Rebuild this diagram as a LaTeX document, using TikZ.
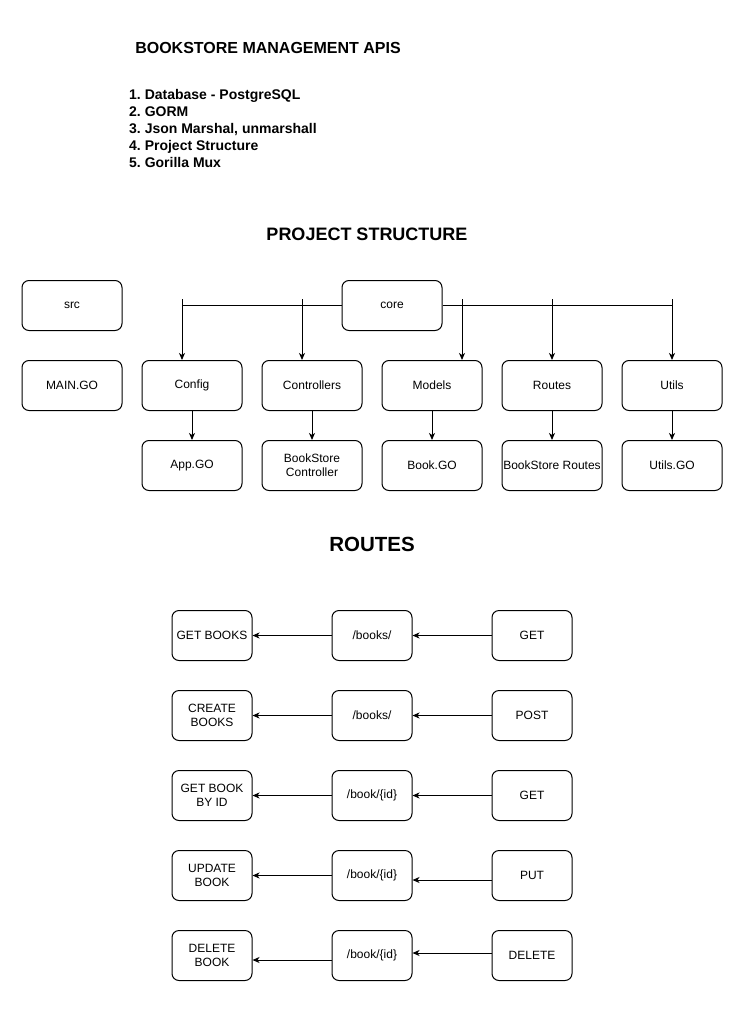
\documentclass[tikz,border=0pt]{standalone}
\usepackage{fontspec}
\setmainfont{Liberation Sans}
\usetikzlibrary{arrows.meta}
\frenchspacing
\begin{document}
\begin{tikzpicture}[x=1pt,y=-1pt,
  box/.style={draw=black,line width=1pt,rounded corners=7pt,minimum width=100pt,minimum height=50pt,inner sep=1pt,align=center,font=\fontsize{12}{14}\selectfont},
  rbox/.style={box,minimum width=80pt},
  arr/.style={draw=black,line width=1pt,-{Stealth[length=7pt,width=6pt,inset=2pt]}},
  ln/.style={draw=black,line width=1pt},
  listitem/.style={anchor=base west,inner sep=0pt,font=\bfseries\fontsize{14}{16.8}\selectfont}
]
\useasboundingbox (0,0) rectangle (741,1016);
\fill[white] (0,0) rectangle (741,1016);

% headings
\node[font=\bfseries\fontsize{16}{19}\selectfont] (title) at (268,48) {BOOKSTORE MANAGEMENT APIS};
\node[listitem] (l1) at (129,100) {1. Database - PostgreSQL};
\node[listitem] (l2) at (129,116.8) {2. GORM};
\node[listitem] (l3) at (129,133.6) {3. Json Marshal, unmarshall};
\node[listitem] (l4) at (129,150.4) {4. Project Structure};
\node[listitem] (l5) at (129,167.2) {5. Gorilla Mux};
\node[font=\bfseries\fontsize{18}{21}\selectfont] (ps) at (367,234) {PROJECT STRUCTURE};
\node[font=\bfseries\fontsize{20.5}{24}\selectfont] (rt) at (372,544) {ROUTES};

% project structure
\node[box] (src) at (72,305.5) {src};
\node[box] (main) at (72,385.5) {MAIN.GO};
\node[box] (core) at (392,305.5) {core};
\node[box] (config) at (192,385.5) {Config};
\node[box] (ctrl) at (312,385.5) {Controllers};
\node[box] (models) at (432,385.5) {Models};
\node[box] (routes) at (552,385.5) {Routes};
\node[box] (utils) at (672,385.5) {Utils};
\node[box] (app) at (192,465.5) {App.GO};
\node[box] (bsc) at (312,465.5) {BookStore\\Controller};
\node[box] (book) at (432,465.5) {Book.GO};
\node[box] (bsr) at (552,465.5) {BookStore Routes};
\node[box] (ugo) at (672,465.5) {Utils.GO};

\coordinate (t1) at (182,299);
\coordinate (t2) at (302,299);
\coordinate (t3) at (462,299);
\coordinate (t4) at (552,299);
\coordinate (t5) at (672,299);
\draw[ln] (core.west) -- (core.west -| t1);
\draw[ln] (core.east) -- (core.east -| t5);
\draw[arr] (t1) -- (t1 |- config.north);
\draw[arr] (t2) -- (t2 |- ctrl.north);
\draw[arr] (t3) -- (t3 |- models.north);
\draw[arr] (t4) -- (t4 |- routes.north);
\draw[arr] (t5) -- (t5 |- utils.north);

\draw[arr] (config) -- (app);
\draw[arr] (ctrl) -- (bsc);
\draw[arr] (models) -- (book);
\draw[arr] (routes) -- (bsr);
\draw[arr] (utils) -- (ugo);

% routes
\node[rbox] (r1a) at (212,635.5) {GET BOOKS};
\node[rbox] (r1b) at (372,635.5) {/books/};
\node[rbox] (r1c) at (532,635.5) {GET};
\node[rbox] (r2a) at (212,715.5) {CREATE\\BOOKS};
\node[rbox] (r2b) at (372,715.5) {/books/};
\node[rbox] (r2c) at (532,715.5) {POST};
\node[rbox] (r3a) at (212,795.5) {GET BOOK\\BY ID};
\node[rbox] (r3b) at (372,795.5) {/book/\{id\}};
\node[rbox] (r3c) at (532,795.5) {GET};
\node[rbox] (r4a) at (212,875.5) {UPDATE\\BOOK};
\node[rbox] (r4b) at (372,875.5) {/book/\{id\}};
\node[rbox] (r4c) at (532,875.5) {PUT};
\node[rbox] (r5a) at (212,955.5) {DELETE\\BOOK};
\node[rbox] (r5b) at (372,955.5) {/book/\{id\}};
\node[rbox] (r5c) at (532,955.5) {DELETE};

\draw[arr] (r1c) -- (r1b);
\draw[arr] (r1b) -- (r1a);
\draw[arr] (r2c) -- (r2b);
\draw[arr] (r2b) -- (r2a);
\draw[arr] (r3c) -- (r3b);
\draw[arr] (r3b) -- (r3a);
\draw[arr] ([yshift=-4.5pt]r4c.west) -- ([yshift=-4.5pt]r4b.east);
\draw[arr] (r4b) -- (r4a);
\draw[arr] ([yshift=2.5pt]r5c.west) -- ([yshift=2.5pt]r5b.east);
\draw[arr] ([yshift=-4.5pt]r5b.west) -- ([yshift=-4.5pt]r5a.east);
\end{tikzpicture}
\end{document}
